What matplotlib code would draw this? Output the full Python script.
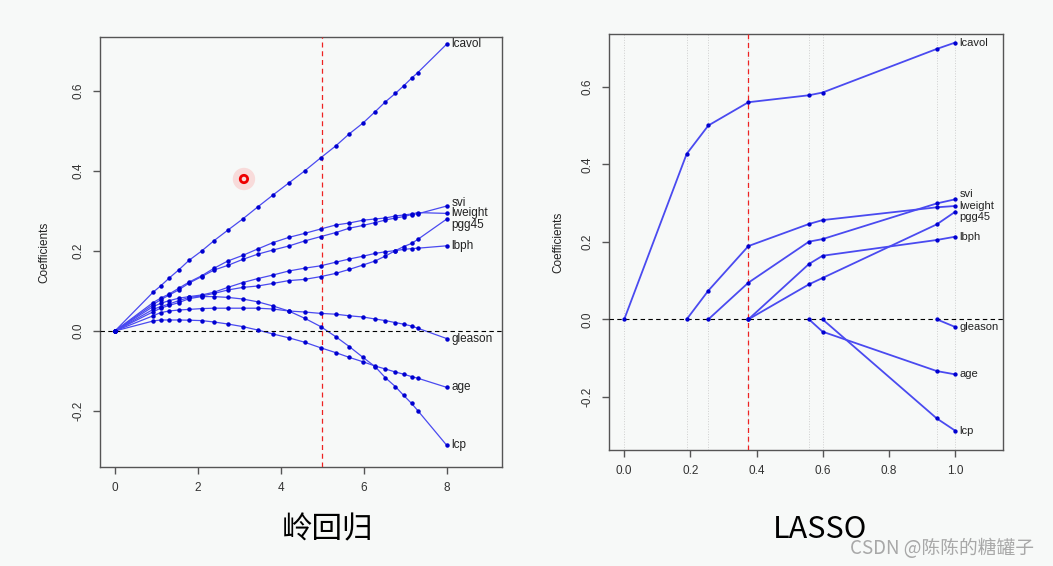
import numpy as np
import matplotlib.pyplot as plt

# ridge: effective degrees of freedom and coefficient profiles
df = [0, 0.92, 1.10, 1.31, 1.54, 1.79, 2.09, 2.39, 2.72, 3.08, 3.44, 3.81, 4.19,
      4.57, 4.96, 5.32, 5.65, 5.98, 6.27, 6.52, 6.76, 6.96, 7.15, 7.30, 8.0]
ridge_lcavol = [0, 0.097, 0.1125, 0.1325, 0.153, 0.177, 0.200, 0.226, 0.252, 0.280, 0.310, 0.340, 0.370,
                0.400, 0.433, 0.4625, 0.493, 0.520, 0.548, 0.573, 0.594, 0.613, 0.632, 0.646, 0.7175]
ridge_lweight = [0, 0.071, 0.082, 0.0925, 0.107, 0.1225, 0.138, 0.157, 0.175, 0.189, 0.205, 0.221, 0.234,
                 0.244, 0.255, 0.265, 0.270, 0.277, 0.280, 0.2825, 0.2875, 0.290, 0.2925, 0.296, 0.294]
ridge_svi = [0, 0.066, 0.078, 0.090, 0.103, 0.120, 0.136, 0.1525, 0.164, 0.179, 0.192, 0.2025, 0.2125,
             0.225, 0.236, 0.246, 0.257, 0.264, 0.271, 0.2775, 0.2825, 0.286, 0.291, 0.293, 0.3125]
ridge_lbph = [0, 0.061, 0.069, 0.076, 0.082, 0.086, 0.090, 0.097, 0.109, 0.121, 0.131, 0.140, 0.150,
              0.157, 0.163, 0.172, 0.180, 0.187, 0.194, 0.198, 0.201, 0.204, 0.206, 0.207, 0.213]
ridge_pgg45 = [0, 0.054, 0.061, 0.0675, 0.076, 0.084, 0.0875, 0.094, 0.1025, 0.109, 0.1125, 0.119, 0.126,
               0.129, 0.136, 0.144, 0.154, 0.165, 0.175, 0.1875, 0.201, 0.211, 0.219, 0.229, 0.280]
ridge_lcp = [0, 0.048, 0.057, 0.064, 0.071, 0.081, 0.086, 0.086, 0.084, 0.080, 0.073, 0.0625, 0.050,
             0.032, 0.011, -0.014, -0.039, -0.066, -0.089, -0.117, -0.139, -0.161, -0.181, -0.199, -0.286]
ridge_gleason = [0, 0.038, 0.046, 0.050, 0.0525, 0.054, 0.056, 0.057, 0.057, 0.057, 0.057, 0.055, 0.050,
                 0.0475, 0.044, 0.042, 0.038, 0.035, 0.030, 0.026, 0.021, 0.017, 0.0125, 0.007, -0.019]
ridge_age = [0, 0.025, 0.0275, 0.0275, 0.0275, 0.027, 0.026, 0.0225, 0.0175, 0.011, 0.0025, -0.0075, -0.017,
             -0.028, -0.042, -0.054, -0.066, -0.077, -0.0875, -0.095, -0.1025, -0.108, -0.114, -0.118, -0.141]

# lasso: shrinkage factor s at the breakpoints
s = [0, 0.1885, 0.254, 0.375, 0.558, 0.599, 0.944, 1.0]
lasso_lcavol = [0, 0.4266, 0.500, 0.560, 0.578, 0.585, 0.6975, 0.714]
lasso_svi = [0, 0, 0, 0.0946, 0.2004, 0.207, 0.299, 0.3097]
lasso_lweight = [0, 0, 0.074, 0.189, 0.246, 0.256, 0.289, 0.2924]
lasso_pgg45 = [0, 0, 0, 0, 0.0903, 0.1067, 0.245, 0.2777]
lasso_lbph = [0, 0, 0, 0, 0.1428, 0.164, 0.2047, 0.2132]
lasso_gleason = [0, 0, 0, 0, 0, 0, 0, -0.0198]
lasso_age = [0, 0, 0, 0, 0, -0.0318, -0.1334, -0.142]
lasso_lcp = [0, 0, 0, 0, 0, 0, -0.2556, -0.2874]

names = ['lcavol', 'svi', 'lweight', 'pgg45', 'lbph', 'gleason', 'age', 'lcp']
ridge = [ridge_lcavol, ridge_svi, ridge_lweight, ridge_pgg45, ridge_lbph, ridge_gleason, ridge_age, ridge_lcp]
lasso = [lasso_lcavol, lasso_svi, lasso_lweight, lasso_pgg45, lasso_lbph, lasso_gleason, lasso_age, lasso_lcp]
ridge_cut = 5.0
lasso_cut = 0.375

# label nudges in points (text only)
ridge_nudge = {'svi': 2.5, 'pgg45': -4.0}
lasso_nudge = {'svi': 3.5, 'pgg45': -3.5}

bg = '#f7f9f8'
line_col = '#4a4af0'
pt_col = '#0000d0'
axis_col = '#555555'

plt.rcParams['font.family'] = ['Liberation Sans', 'DejaVu Sans']

fig = plt.figure(figsize=(10.53, 5.66), dpi=100, facecolor=bg)
ax1 = fig.add_axes([100/1053, 1-467/566, 402/1053, 430/566])
ax2 = fig.add_axes([609/1053, 1-450/566, 394/1053, 416/566])


def style(ax):
    ax.set_facecolor(bg)
    for sp in ax.spines.values():
        sp.set_color(axis_col)
        sp.set_linewidth(1.0)
    ax.tick_params(colors=axis_col, labelcolor='#333333', length=5, width=1, labelsize=8.5, pad=6)
    ax.set_ylabel('Coefficients', fontsize=8.5, color='#222222')


# ridge panel
for name, c in zip(names, ridge):
    ax1.plot(df, c, color=line_col, lw=0.9, zorder=2)
    ax1.plot(df, c, 'o', color=pt_col, ms=2.2, zorder=4)
    ax1.annotate(name, (df[-1], c[-1]), xytext=(3.5, ridge_nudge.get(name, 0)),
                 textcoords='offset points', va='center', ha='left', fontsize=8.5, color='#222222')
ax1.axhline(0, color='black', lw=0.8, ls=(0, (4, 3)), zorder=3)
ax1.axvline(ridge_cut, color='#ee2222', lw=0.9, ls=(0, (4, 3)), zorder=3)
# red cursor mark from the screen capture
ax1.scatter([3.11], [0.38], s=260, color='#ff3030', alpha=0.15, edgecolors='none', zorder=5)
ax1.scatter([3.11], [0.38], s=28, facecolors='none', edgecolors='#ee0000', linewidths=2, zorder=6)
ax1.set_xlim(-0.36, 9.33)
ax1.set_ylim(-0.34, 0.735)
ax1.set_xticks([0, 2, 4, 6, 8])
ax1.set_yticks([-0.2, 0.0, 0.2, 0.4, 0.6])
ax1.set_yticklabels(['-0.2', '0.0', '0.2', '0.4', '0.6'], rotation=90, va='center')
style(ax1)
ax1.yaxis.set_label_coords(-0.124, 0.5)

# lasso panel
for x in s:
    ax2.axvline(x, color='#cfcfcf', lw=0.7, ls=':', zorder=1)
for name, c in zip(names, lasso):
    c = np.array(c)
    nz = np.nonzero(c)[0]
    start = max(nz[0] - 1, 0)
    ax2.plot(s[start:], c[start:], color=line_col, lw=1.3, zorder=2)
    ax2.plot(s[start:], c[start:], 'o', color=pt_col, ms=2.1, zorder=4)
    ax2.annotate(name, (s[-1], c[-1]), xytext=(3, lasso_nudge.get(name, 0)),
                 textcoords='offset points', va='center', ha='left', fontsize=8, color='#222222')
ax2.axhline(0, color='black', lw=0.8, ls=(0, (4, 3)), zorder=3)
ax2.axvline(lasso_cut, color='#ee2222', lw=0.9, ls=(0, (4, 3)), zorder=3)
ax2.set_xlim(-0.046, 1.144)
ax2.set_ylim(-0.337, 0.736)
ax2.set_xticks([0.0, 0.2, 0.4, 0.6, 0.8, 1.0])
ax2.set_xticklabels(['0.0', '0.2', '0.4', '0.6', '0.8', '1.0'])
ax2.set_yticks([-0.2, 0.0, 0.2, 0.4, 0.6])
ax2.set_yticklabels(['-0.2', '0.0', '0.2', '0.4', '0.6'], rotation=90, va='center')
style(ax2)
ax2.yaxis.set_label_coords(-0.114, 0.5)

cjk = ['Noto Sans CJK SC', 'DejaVu Sans']
fig.text(327/1053, 1-530/566, '岭回归', fontsize=22, family=cjk, ha='center', va='center')
fig.text(820/1053, 1-530/566, 'LASSO', fontsize=22, family=cjk, ha='center', va='center')
fig.text(942/1053, 1-548/566, 'CSDN @陈陈的糖罐子', fontsize=13.5, family=cjk,
         color='#a8a8a8', ha='center', va='center')

fig.savefig('out.png', dpi=100, facecolor=bg)
